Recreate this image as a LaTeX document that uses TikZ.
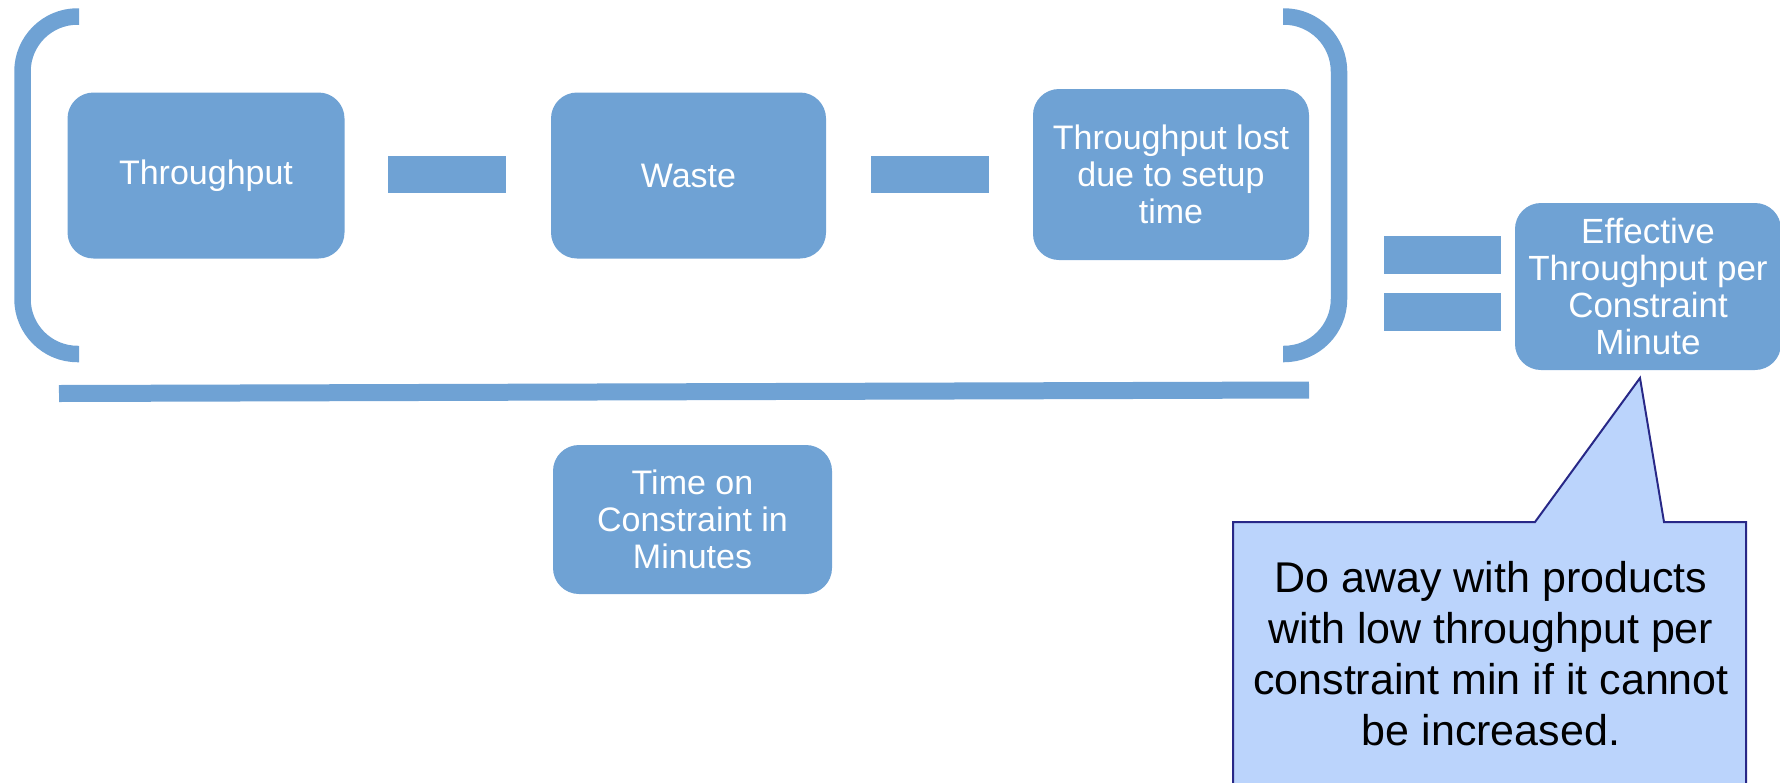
\documentclass[tikz,border=0pt]{standalone}
\usepackage{fontspec}
\setmainfont{Liberation Sans}
\definecolor{boxblue}{RGB}{111,162,212}
\definecolor{notefill}{RGB}{187,212,252}
\definecolor{noteline}{RGB}{40,40,135}

\begin{document}
\begin{tikzpicture}[x=1pt,y=-1pt,
  block/.style={fill=boxblue, rounded corners=26pt, text=white, align=center,
    font=\fontsize{34}{37}\selectfont, inner sep=0pt},
  bar/.style={fill=boxblue, inner sep=0pt},
  brace/.style={draw=boxblue, line width=16.5pt, rounded corners=55pt},
  note/.style={font=\fontsize{43}{51}\selectfont, align=center, text=black}
]
\useasboundingbox (0,0) rectangle (1780,782);

% terms of the numerator
\node[block, minimum width=277pt, minimum height=166pt] (thr) at (206,175.5) {Throughput};
\node[bar, minimum width=118pt, minimum height=37pt] (minusA) at (447,174.5) {};
\node[block, minimum width=275pt, minimum height=166pt] (waste) at (688.5,175.5) {Waste};
\node[bar, minimum width=118pt, minimum height=37pt] (minusB) at (930,174.5) {};
\node[block, minimum width=276pt, minimum height=171pt] (setup) at (1171,174.5)
  {Throughput lost\\due to setup\\time};

% brackets round the numerator
\draw[brace] (79,16.5) -- (22.5,16.5) -- (22.5,354) -- (79,354);
\draw[brace] (1283,16.5) -- (1339,16.5) -- (1339,354) -- (1283,354);

% fraction line
\coordinate (fracL) at (59,393.5);
\coordinate (fracR) at (1309,390);
\draw[draw=boxblue, line width=17pt] (fracL) -- (fracR);

% denominator
\node[block, minimum width=279pt, minimum height=149pt] (time) at (692.5,519.5)
  {Time on\\Constraint in\\Minutes};

% equals sign
\node[bar, minimum width=117pt, minimum height=38pt] (eqA) at (1442,255) {};
\node[bar, minimum width=117pt, minimum height=38pt] (eqB) at (1442,312) {};

% result
\node[block, minimum width=266pt, minimum height=167pt,
  font=\fontsize{35}{37}\selectfont] (eff) at (1648,286.5)
  {Effective\\Throughput per\\Constraint\\Minute};

% callout
\coordinate (tip) at (1640,378);
\draw[fill=notefill, draw=noteline, line width=2pt, line join=miter]
  (1233,800) -- (1233,522) -- (1535,522) -- (tip) -- (1664,522) -- (1746,522) -- (1746,800);
\node[note] (advice) at (1491,654)
  {Do away with products\\with low throughput per\\constraint min if it cannot\\be increased.};
\end{tikzpicture}
\end{document}
